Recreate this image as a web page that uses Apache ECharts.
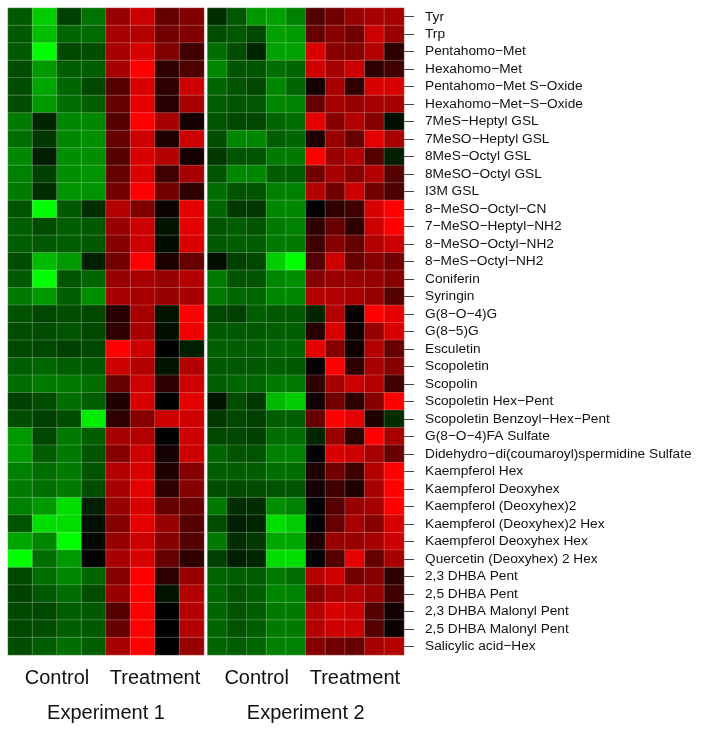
<!DOCTYPE html>
<html>
<head>
<meta charset="utf-8">
<script src="https://cdn.jsdelivr.net/npm/echarts@6/dist/echarts.min.js"></script>
<style>
  html, body { margin: 0; padding: 0; background: #fff; }
  #chart { width: 701px; height: 733px; }
</style>
</head>
<body>
<div id="chart"></div>
<script>
// metabolite rows, top to bottom
const compounds = [
  'Tyr', 'Trp', 'Pentahomo\u2212Met', 'Hexahomo\u2212Met', 'Pentahomo\u2212Met S\u2212Oxide',
  'Hexahomo\u2212Met\u2212S\u2212Oxide', '7MeS\u2212Heptyl GSL', '7MeSO\u2212Heptyl GSL', '8MeS\u2212Octyl GSL',
  '8MeSO\u2212Octyl GSL', 'I3M GSL', '8\u2212MeSO\u2212Octyl\u2212CN', '7\u2212MeSO\u2212Heptyl\u2212NH2',
  '8\u2212MeSO\u2212Octyl\u2212NH2', '8\u2212MeS\u2212Octyl\u2212NH2', 'Coniferin', 'Syringin', 'G(8\u2212O\u22124)G',
  'G(8\u22125)G', 'Esculetin', 'Scopoletin', 'Scopolin', 'Scopoletin Hex\u2212Pent',
  'Scopoletin Benzoyl\u2212Hex\u2212Pent', 'G(8\u2212O\u22124)FA Sulfate',
  'Didehydro\u2212di(coumaroyl)spermidine Sulfate', 'Kaempferol Hex', 'Kaempferol Deoxyhex',
  'Kaempferol (Deoxyhex)2', 'Kaempferol (Deoxyhex)2 Hex', 'Kaempferol Deoxyhex Hex',
  'Quercetin (Deoxyhex) 2 Hex', '2,3 DHBA Pent', '2,5 DHBA Pent', '2,3 DHBA Malonyl Pent',
  '2,5 DHBA Malonyl Pent', 'Salicylic acid\u2212Hex'
];

const groups = ['Control', 'Treatment'];
const exp1Cols = ['C1', 'C2', 'C3', 'C4', 'T1', 'T2', 'T3', 'T4'];
const exp2Cols = ['C1', 'C2', 'C3', 'C4', 'C5', 'T1', 'T2', 'T3', 'T4', 'T5'];

// scaled levels, -10 = bright green, 0 = black, 10 = bright red
const exp1Values = [
  [-3.5, -8, -2.5, -4.5, 6, 8, 4, 5],
  [-3.5, -7.5, -4, -4.2, 6.5, 7, 4.5, 5],
  [-3.5, -10, -2.8, -3, 6.5, 8.5, 5, 2.5],
  [-3, -6, -3.7, -3.7, 6.5, 10, 1.8, 3],
  [-3, -6.5, -4, -2.8, 3.3, 8.5, 1.8, 8],
  [-3, -6, -4.3, -3.7, 4, 9, 1.5, 6.5],
  [-4.8, -1.5, -5.3, -5.3, 3.3, 10, 6.5, 0.8],
  [-4.3, -2.2, -5.3, -5.6, 4, 8, 1.2, 8],
  [-5.3, -1.2, -5.6, -5.6, 3.3, 8.5, 7, 0.8],
  [-5, -2.5, -5.6, -5.8, 4, 8.5, 2.5, 6.5],
  [-4.8, -1.8, -5.8, -5.8, 4.5, 10, 4.5, 1.8],
  [-3.3, -10, -3.5, -1.8, 7, 5, 0.5, 9],
  [-3.7, -3, -3.7, -3.5, 6, 8, -0.8, 9],
  [-3.7, -3.5, -3.7, -3.5, 5.3, 8, -0.5, 8.5],
  [-3, -7.3, -6, -1.2, 4.5, 10, 1.2, 4],
  [-3.5, -10, -3.3, -4, 6, 6.5, 6, 7],
  [-4.8, -6, -3.7, -5.6, 6.5, 6.5, 6, 6.5],
  [-3.2, -2.8, -3, -2.8, 1.5, 6.5, -0.8, 10],
  [-3, -3, -3.3, -2.8, 1.8, 6.5, -0.6, 9.5],
  [-2.8, -2.8, -2.5, -2.8, 10, 8, 0, -1.2],
  [-3.7, -4, -3.7, -3.5, 8, 7, -0.8, 7],
  [-4.3, -4.8, -4.8, -4.3, 4, 8, 1.8, 8],
  [-2.5, -3, -4.3, -3.7, 1.2, 8.5, 0, 9],
  [-3, -2.5, -3, -9.3, 1.8, 5.3, 8, 8],
  [-6, -2.8, -4.8, -3.7, 6.5, 7, 0, 8],
  [-6, -3.7, -4.8, -3.3, 5.3, 8, 0.8, 8],
  [-5, -4.3, -4.8, -3.3, 7, 8.5, 1.2, 5.3],
  [-4.8, -4.3, -4.8, -3, 6.5, 9, 1.8, 5.3],
  [-5, -6, -8.7, -1.2, 6, 8.5, 4, 4],
  [-3.3, -8.7, -8.7, -0.6, 5.3, 9, 6, 3.3],
  [-6.5, -5.3, -10, -0.3, 6, 8, 5.3, 3.3],
  [-10, -4.3, -6, 0, 6.5, 8.5, 4, 1.8],
  [-2.8, -4.3, -5.3, -4, 5.3, 10, 1.8, 6],
  [-2.6, -3.5, -4.3, -3, 6, 10, -0.8, 7],
  [-2.8, -2.8, -3.7, -3.5, 3.3, 10, 0, 7],
  [-2.8, -3, -3.7, -3.5, 4, 10, 0, 7],
  [-3, -3.7, -4.3, -3.7, 6.5, 10, 0, 6]
];

const exp2Values = [
  [-1.8, -3.5, -6, -6.3, -5, 3.3, 4.5, 6, 6.5, 6.5],
  [-3, -3.5, -2.8, -6.3, -6, 4, 5.3, 4.5, 8, 6],
  [-4.3, -3, -1.5, -6.3, -6.3, 8.5, 5.3, 5.3, 7, 1.8],
  [-5.3, -3.3, -3.3, -4.3, -4, 8, 6.5, 8, 1.8, 2.5],
  [-4, -3.3, -2.8, -5.3, -4, 0.8, 6.5, 1.8, 8.5, 8.5],
  [-3.7, -3.3, -3.5, -5.3, -5, 4, 6.5, 6, 6.5, 6.5],
  [-3.3, -2.8, -2.8, -4, -4.3, 9, 5.3, 7, 5.3, -0.6],
  [-3, -5.3, -5.3, -3.7, -4, 1.2, 6, 4, 9, 6.5],
  [-2.2, -3.3, -3.3, -4.8, -4.8, 10, 6, 7, 3.3, -1.2],
  [-3.3, -5.3, -5.3, -3.7, -3.7, 4.5, 6.5, 5.3, 7, 3.3],
  [-4.3, -3.3, -3.3, -5, -5, 7, 4.5, 8, 4.5, 3],
  [-4, -2.2, -2.2, -5.3, -5.3, 0, 1.8, 2.5, 8.5, 10],
  [-3.3, -3.7, -3.3, -4.8, -5, 1.8, 4, 1.8, 8, 10],
  [-3.5, -3.7, -3.7, -4.8, -4.8, 2.5, 5.3, 4, 7, 8],
  [-0.6, -2.5, -2.8, -8, -10, 3.3, 8, 4, 5.3, 4.5],
  [-4.8, -3.3, -3.3, -5.3, -5.6, 5.3, 6, 6, 6, 5.3],
  [-4.8, -4, -4, -5.3, -5.3, 7, 7, 6.5, 6, 3.3],
  [-2.8, -2.5, -3.7, -3.5, -3.5, -1.5, 7, 0.2, 10, 9],
  [-3.5, -3.5, -3.5, -3.7, -3.7, 1.5, 8.5, 0.6, 6, 8.5],
  [-3.7, -3.7, -3.7, -4, -4, 9, 5.3, 0.6, 7, 4],
  [-3.5, -3.5, -3.5, -3.7, -3.5, 0.2, 10, 1.8, 6.5, 5.3],
  [-3.7, -4, -4, -4.8, -4.8, 1.8, 6.5, 8, 7, 2.5],
  [-0.8, -3, -2.2, -7.3, -8, 0.8, 4.5, 1.8, 5.3, 10],
  [-2.2, -2.8, -2.5, -3.7, -3.7, 4, 10, 9, 1.2, -1.8],
  [-2.8, -2.8, -2.5, -4.3, -4.3, -1.5, 6, 1.8, 10, 6.5],
  [-4, -3.3, -3.3, -5, -5, 0, 8.5, 8, 6.5, 4],
  [-3.7, -3.7, -3.7, -4.3, -4.3, 1.2, 4.5, 2.5, 7, 10],
  [-3, -2.8, -3, -3.3, -3.3, 0.8, 2.5, 1.2, 6.5, 10],
  [-4.8, -1.8, -1.8, -5.6, -5, 0, 3.3, 6, 6.5, 10],
  [-3, -1.2, -1.5, -8.7, -8, 0, 4, 6.5, 5.3, 8.5],
  [-4.8, -1.8, -2.2, -6.5, -6.5, 1.2, 6, 6, 6.5, 8],
  [-2.5, -1.2, -1.5, -8.7, -8.7, 0, 3.3, 9, 4, 6.5],
  [-4, -3.7, -3.7, -4.8, -4.3, 7, 8, 4.5, 5.3, 1.8],
  [-4, -3.3, -3.7, -5.3, -5, 5.3, 6.5, 7, 6, 2.5],
  [-4, -3.3, -3.7, -4.8, -4.8, 7, 8.5, 8, 3.3, 0.8],
  [-4, -3.3, -3.7, -4.8, -4.8, 7, 8, 8, 3.3, 0.5],
  [-4, -3.7, -4, -5, -5, 5.3, 4.5, 4, 6.5, 7]
];

const FONT = '"Liberation Sans", Arial, Helvetica, sans-serif';

// [col, row, value] triples for the heatmap
const toCells = (rows) => {
  const out = [];
  rows.forEach((r, j) => r.forEach((v, i) => out.push([i, j, v])));
  return out;
};

const cellAxis = (cols, grid) => ({
  type: 'category', gridIndex: grid, data: cols, position: 'bottom',
  axisLine: { show: false }, axisTick: { show: false }, axisLabel: { show: false },
  splitLine: { show: false }
});

const groupAxis = (name, grid) => ({
  type: 'category', gridIndex: grid, data: groups, position: 'bottom',
  axisLine: { show: false }, axisTick: { show: false },
  axisLabel: { interval: 0, fontSize: 20, color: '#111', margin: 13, fontFamily: FONT },
  name: name, nameLocation: 'middle', nameGap: 48,
  nameTextStyle: { fontSize: 20, color: '#111', fontFamily: FONT }
});

const chart = echarts.init(document.getElementById('chart'), null, { renderer: 'canvas' });

chart.setOption({
  backgroundColor: '#fff',
  animation: false,
  grid: [
    { left: 8, top: 8, width: 196, height: 647 },
    { left: 207.5, top: 8, width: 196.5, height: 647 }
  ],
  xAxis: [
    cellAxis(exp1Cols, 0),
    groupAxis('Experiment 1', 0),
    cellAxis(exp2Cols, 1),
    groupAxis('Experiment 2', 1)
  ],
  yAxis: [
    {
      type: 'category', gridIndex: 0, data: compounds, inverse: true,
      axisLine: { show: false }, axisTick: { show: false }, axisLabel: { show: false }
    },
    {
      type: 'category', gridIndex: 1, data: compounds, inverse: true, position: 'right',
      axisLine: { show: false },
      axisTick: { show: true, interval: 0, alignWithLabel: true, length: 10, lineStyle: { color: '#444' } },
      axisLabel: { interval: 0, fontSize: 13.7, color: '#111', margin: 21, fontFamily: FONT }
    }
  ],
  visualMap: {
    show: false, min: -10, max: 10, seriesIndex: [0, 1],
    inRange: { color: ['#00ff00', '#000000', '#ff0000'] }
  },
  series: [
    {
      type: 'heatmap', xAxisIndex: 0, yAxisIndex: 0, data: toCells(exp1Values),
      itemStyle: { borderColor: 'rgba(255,255,255,0.22)', borderWidth: 1 },
      emphasis: { disabled: true }
    },
    {
      type: 'heatmap', xAxisIndex: 2, yAxisIndex: 1, data: toCells(exp2Values),
      itemStyle: { borderColor: 'rgba(255,255,255,0.22)', borderWidth: 1 },
      emphasis: { disabled: true }
    }
  ]
});
</script>
</body>
</html>
